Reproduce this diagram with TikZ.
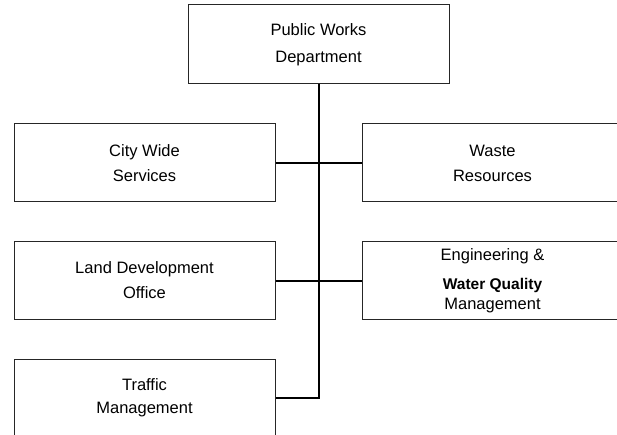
\documentclass[tikz,border=0pt]{standalone}
\usepackage{fontspec}
\setmainfont{Liberation Sans}
\usepackage{tikz}
\usetikzlibrary{positioning, calc}

\begin{document}
\begin{tikzpicture}[
  x=1pt, y=-1pt,
  unit/.style={draw=black!85, line width=1pt, fill=white, minimum width=261pt, minimum height=78pt,
              align=center, font=\fontsize{16.5}{25}\selectfont},
  link/.style={line width=2pt, black},
]
\useasboundingbox (0,0) rectangle (617,435);
\clip (0,0) rectangle (617,435);

\node[unit, minimum height=79pt, font=\fontsize{16.5}{27}\selectfont] (pwd) at (318.5,44.5) {Public Works\\Department};
\node[unit] (cws) at (144.5,163) {City Wide\\Services};
\node[unit] (wst) at (492.5,163) {Waste\\Resources};
\node[unit] (ldo) at (144.5,280.5) {Land Development\\Office};
\node[unit] (eng) at (492.5,280.5) {Engineering \&\\[4pt]
  {\bfseries\fontsize{15.5}{18}\selectfont Water Quality}\\[-5pt] Management};
\node[unit] (trf) at (144.5,398) {Traffic\\[-2pt]Management};

\coordinate (trunk) at (pwd.south |- trf.east);
\draw[link] (pwd.south) -- (trunk) -- (trf.east);
\draw[link] (cws.east) -- (wst.west);
\draw[link] (ldo.east) -- (eng.west);
\end{tikzpicture}
\end{document}
